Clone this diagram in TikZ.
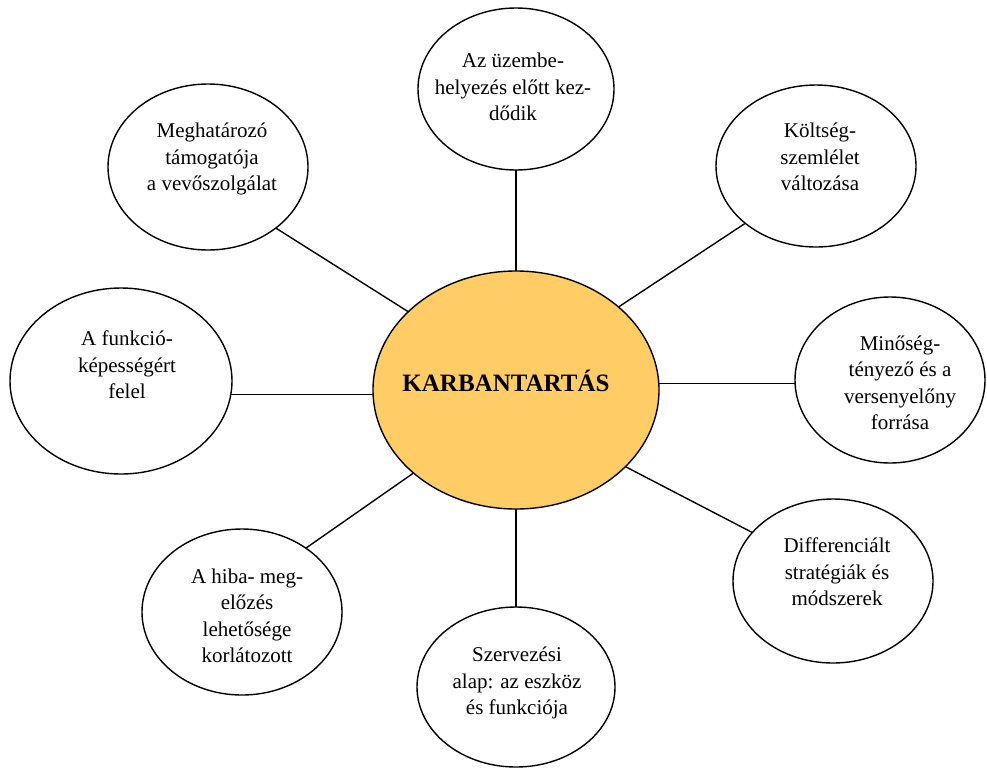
\documentclass[tikz,border=0pt]{standalone}
\usepackage{fontspec}
\setmainfont{Liberation Serif}
\usetikzlibrary{shapes.geometric}
\definecolor{core}{RGB}{255,204,102}
\begin{document}
\begin{tikzpicture}[x=1pt,y=1pt,
  bubble/.style={ellipse, draw=black, line width=1.4pt, fill=white, inner sep=0pt, outer sep=0pt},
  txt/.style={align=center, font=\fontsize{21}{26.5}\selectfont, inner sep=0pt},
  link/.style={draw=black, line width=1.4pt}]
\useasboundingbox[fill=white] (0,0) rectangle (987,-769);

% central topic and the eight surrounding ellipses
\node[bubble, fill=core, minimum width=286pt, minimum height=238pt] (c) at (516,-390) {};
\node[bubble, minimum width=196pt, minimum height=162pt] (t)  at (516,-89)  {};
\node[bubble, minimum width=200pt, minimum height=166pt] (tl) at (208,-167) {};
\node[bubble, minimum width=200pt, minimum height=162pt] (tr) at (816,-166) {};
\node[bubble, minimum width=222pt, minimum height=186pt] (l)  at (121,-381) {};
\node[bubble, minimum width=190pt, minimum height=166pt] (r)  at (890,-380) {};
\node[bubble, minimum width=200pt, minimum height=166pt] (bl) at (242,-612) {};
\node[bubble, minimum width=198pt, minimum height=160pt] (b)  at (516,-687) {};
\node[bubble, minimum width=200pt, minimum height=164pt] (br) at (833,-581) {};

% texts
\node[font=\fontsize{25}{30}\selectfont\bfseries, anchor=base, inner sep=0pt] (c-txt) at (506,-391) {KARBANTARTÁS};
\node[txt] (t-txt)  at (513,-87)  {Az üzembe-\\helyezés előtt kez-\\dődik};
\node[txt] (tl-txt) at (212,-159) {Meghatározó\\támogatója\\a vevőszolgálat};
\node[txt] (tr-txt) at (820,-157) {Költség-\\szemlélet\\változása};
\node[txt] (l-txt)  at (127,-365) {A funkció-\\képességért\\felel};
\node[txt] (r-txt)  at (900,-383) {Minőség-\\tényező és a\\versenyelőny\\forrása};
\node[txt] (bl-txt) at (247,-616) {A hiba- meg-\\előzés\\lehetősége\\korlátozott};
\node[txt] (b-txt)  at (517,-683) {Szervezési\\alap: az eszköz\\és funkciója};
\node[txt] (br-txt) at (837,-572) {Differenciált\\stratégiák és\\módszerek};

% connectors
\draw[link] (c.north) -- (t.south);
\draw[link] (c.144) -- (tl.-42);
\draw[link] (c.39) -- (tr.219);
\draw[link] (l.-7) -- (l.-7 -| c.west);
\draw[link] (r.182) -- (r.182 -| c.east);
\draw[link] (c.-35) -- (br.149);
\draw[link] (c.219) -- (bl.45);
\draw[link] (c.south) -- (b.north);
\end{tikzpicture}
\end{document}
